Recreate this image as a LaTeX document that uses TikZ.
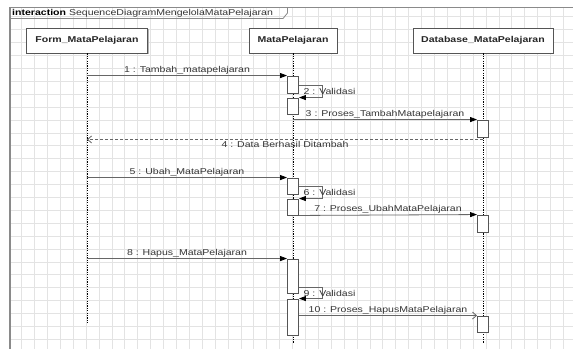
\documentclass[tikz,border=0pt]{standalone}
\usepackage{fontspec}
\setmainfont[FakeStretch=1.24]{Liberation Sans}
\usetikzlibrary{arrows.meta,shadows,calc}
\definecolor{gridc}{HTML}{E3E3E3}
\definecolor{linec}{HTML}{666666}
\definecolor{textc}{HTML}{363636}
\definecolor{boxc}{HTML}{555555}
\definecolor{framec}{HTML}{8A8A8A}
\begin{document}
\begin{tikzpicture}[x=1pt,y=-1pt,
  lbox/.style={draw=boxc, line width=0.9pt, fill=white, font=\fontsize{8.5}{10}\selectfont\bfseries, text=black!85, drop shadow={shadow xshift=1.2pt,shadow yshift=-1.2pt,fill=black!30,opacity=1}, inner sep=0pt, minimum height=25pt},
  act/.style={draw=boxc, line width=0.9pt, fill=white, minimum width=11pt, inner sep=0pt},
  life/.style={black, line width=0.8pt, dash pattern=on 1.2pt off 1.2pt},
  msg/.style={draw=linec, line width=0.8pt, -{Triangle[length=7pt,width=5pt,black]}},
  omsg/.style={draw=linec, line width=0.8pt, -{Straight Barb[length=4pt,width=7pt,linec]}},
  ret/.style={draw=linec, line width=0.8pt, dash pattern=on 3pt off 2pt, -{Straight Barb[length=4pt,width=7pt,linec]}},
  lbl/.style={font=\fontsize{8.5}{10}\selectfont, text=textc, inner sep=1pt},
]
\useasboundingbox (0,0) rectangle (573,349);
\fill[white] (0,0) rectangle (573,349);
% grid
\begin{scope}
  \clip (10,7) rectangle (573,349);
  \foreach \i in {0,...,44} \draw[gridc, line width=0.5pt] ({8.6+12.9*\i},7) -- ({8.6+12.9*\i},349);
  \foreach \j in {0,...,27} \draw[gridc, line width=0.5pt] (10,{3.8+12.9*\j}) -- (573,{3.8+12.9*\j});
\end{scope}
% frame
\draw[framec, line width=0.9pt] (573,7) -- (10,7);
\draw[framec, line width=1.6pt] (10,7) -- (10,349);
\draw[framec, line width=0.8pt] (10,18.5) -- (283,18.5) -- (287.5,13) -- (287.5,7);
\node[anchor=west, inner sep=0pt, font=\fontsize{8.5}{10}\selectfont] (title) at (12,12.8) {\textbf{interaction} \textcolor{textc}{SequenceDiagramMengelolaMataPelajaran}};

% lifeline heads
\node[lbox, minimum width=121pt] (form) at (87,40.5) {Form\_MataPelajaran};
\node[lbox, minimum width=88pt] (mp) at (293,40.5) {MataPelajaran};
\node[lbox, minimum width=140pt] (db) at (483,40.5) {Database\_MataPelajaran};

% lifelines
\coordinate (formend) at (87,323);
\coordinate (mpend) at (293,343);
\coordinate (dbend) at (483,343);
\draw[life] (form.south) -- (formend);
\draw[life] (mp.south) -- (mpend);
\draw[life] (db.south) -- (dbend);

% activations
\node[act, minimum height=17pt] (a1) at (293,84.5) {};
\node[act, minimum height=16pt] (a2) at (293,106) {};
\node[act, minimum height=17pt] (d1) at (483,128.5) {};
\node[act, minimum height=16pt] (a3) at (293,186) {};
\node[act, minimum height=16pt] (a4) at (293,207) {};
\node[act, minimum height=17pt] (d2) at (483,223.5) {};
\node[act, minimum height=34pt] (a5) at (293,276) {};
\node[act, minimum height=36pt] (a6) at (293,317) {};
\node[act, minimum height=16pt] (d3) at (483,324) {};

% messages block 1
\draw[msg] (form.south |- a1.north) -- node[lbl, above] (l1) {1 : Tambah\_matapelajaran} (a1.north west);
\draw[msg] ($(a1.north east)+(0,10)$) -- ($(a1.north east)+(23.5,10)$) -- ($(a2.north east)+(23.5,0)$) -- (a2.north east);
\node[lbl, anchor=west] (l2) at ($(a1.north east)+(3.5,16)$) {2 : Validasi};
\draw[msg] (mp.south |- d1.north) -- node[lbl, above] (l3) {3 : Proses\_TambahMatapelajaran} (d1.north west);
\coordinate (r4) at ($(d1.south)+(0,2)$);
\draw[ret] (r4) -- node[lbl, below] (l4) {4 : Data Berhasil Ditambah} (form.south |- r4);

% block 2
\draw[msg] (form.south |- a3.north) -- node[lbl, above] (l5) {5 : Ubah\_MataPelajaran} (a3.north west);
\draw[msg] ($(a3.north east)+(0,9)$) -- ($(a3.north east)+(23.5,9)$) -- ($(a4.north east)+(23.5,0)$) -- (a4.north east);
\node[lbl, anchor=west] (l6) at ($(a3.north east)+(3.5,15)$) {6 : Validasi};
\draw[msg] (a4.south east) -- node[lbl, above] (l7) {7 : Proses\_UbahMataPelajaran} (d2.north west);

% block 3
\draw[msg] (form.south |- a5.north) -- node[lbl, above] (l8) {8 : Hapus\_MataPelajaran} (a5.north west);
\draw[msg] ($(a5.south east)+(0,-6)$) -- ($(a5.south east)+(23.5,-6)$) -- ($(a6.north east)+(23.5,0)$) -- (a6.north east);
\node[lbl, anchor=west] (l9) at ($(a5.south east)+(3.5,0)$) {9 : Validasi};
\draw[omsg] (a6.east |- d3.north) -- node[lbl, above] (l10) {10 : Proses\_HapusMataPelajaran} (d3.north west);
\end{tikzpicture}
\end{document}
